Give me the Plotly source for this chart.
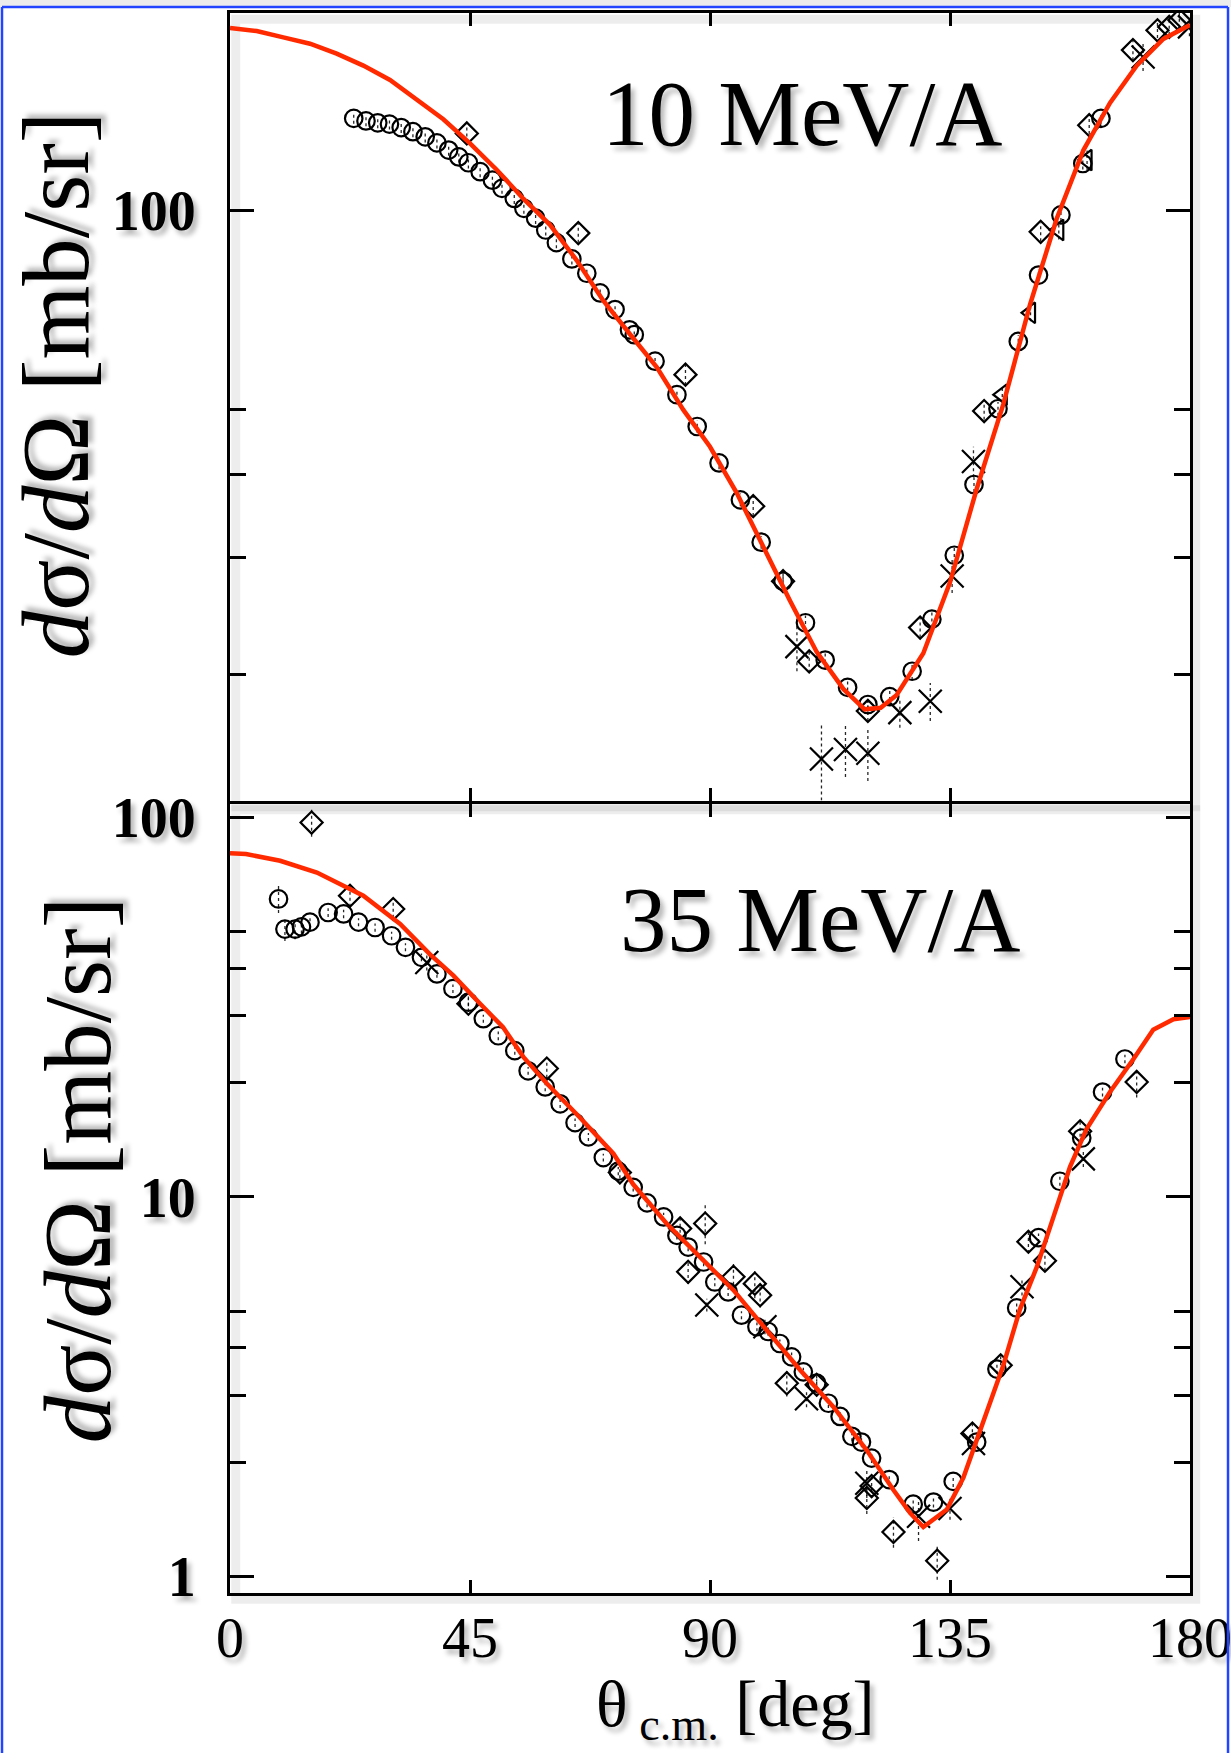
import plotly.graph_objects as go

# ---------------- 10 MeV/A (top panel) ----------------
top_curve_x = [0, 5, 10, 15, 20, 25, 30, 35, 40, 45, 50, 55, 60, 65, 70, 75, 80, 85, 90, 95, 100,
               105, 110, 115, 119, 122, 125, 130, 135, 140, 145, 150, 155, 160, 165, 170, 175, 180]
top_curve_y = [188, 186, 182, 178, 172, 165, 157, 147, 137, 126, 115, 104, 95, 84, 73, 65, 58, 50, 44, 37.5, 31,
               25.8, 21.6, 19, 17.7, 17.8, 18.6, 21.5, 27.5, 38, 51, 72, 97, 123, 145, 165, 181, 190]

top_circ_x = [23.2, 25.5, 27.7, 29.9, 32.1, 34.3, 36.6, 38.8, 41.0, 42.9, 44.7, 46.9, 49.2, 51.0, 53.3, 55.1,
              57.3, 59.2, 61.2, 64.1, 66.9, 69.4, 72.2, 74.9, 75.8, 79.7, 83.8, 87.6, 91.7, 95.7, 99.6, 103.7,
              107.9, 111.6, 115.8, 119.6, 123.7, 127.9, 131.6, 135.8, 139.5, 144.0, 147.8, 151.6, 155.8, 159.9, 163.3]
top_circ_y = [137.4, 136.2, 135.3, 134.7, 133.1, 131.2, 128.9, 126.2, 123.1, 120.2, 117.8, 114.2, 110.9, 107.8,
              104.1, 100.6, 97.2, 93.3, 89.3, 84.4, 80.3, 75.0, 70.8, 66.0, 64.9, 59.2, 52.7, 47.2, 41.6, 36.6,
              31.6, 27.6, 23.9, 21.0, 19.1, 18.0, 18.5, 20.2, 24.2, 30.2, 38.6, 50.2, 63.4, 79.8, 98.3, 117.5, 137.4]
top_circ_err = [2.5, 2.5, 2.5, 2.5, 2.5, 2.5, 2.5, 2.4, 2.4, 2.3, 2.3, 2.2, 2.1, 2.0, 2.0, 1.9,
                1.9, 1.8, 1.7, 1.6, 1.5, 1.4, 1.4, 1.3, 1.3, 1.2, 1.1, 1.0, 0.9, 0.8, 0.7, 0.7,
                0.6, 0.6, 0.6, 0.6, 0.6, 0.6, 0.7, 0.8, 1.0, 1.2, 1.4, 1.7, 2.0, 2.4, 2.8]

top_diam_x = [44.4, 65.3, 85.4, 98.1, 103.7, 108.6, 119.6, 129.4, 141.4, 152.0, 161.1, 169.3, 173.9, 176.1, 178.0]
top_diam_y = [130.4, 92.3, 56.5, 35.8, 27.6, 20.9, 17.6, 23.5, 49.8, 92.7, 134.2, 174.1, 186.5, 188.7, 193.2]
top_diam_err = [4, 3, 2, 1.2, 1, 0.8, 0.6, 0.8, 1.5, 3, 4, 6, 5, 5, 5]

top_x_x = [106.3, 110.9, 115.4, 119.6, 125.6, 131.3, 135.4, 139.4, 171.2, 179.9]
top_x_y = [22.0, 14.9, 15.4, 15.2, 17.5, 18.2, 28.1, 41.8, 170, 188.7]
top_x_err = [1.8, 2.0, 1.4, 1.4, 0.9, 1.2, 1.6, 2.2, 8, 6]

top_tri_x = [144.8, 150.1, 155.4, 160.7]
top_tri_y = [52.7, 70.0, 93.3, 118.9]
top_tri_err = [1.5, 2, 3, 4]

# ---------------- 35 MeV/A (bottom panel) ----------------
bot_curve_x = [0, 3, 9.4, 16.3, 25, 31.9, 37.5, 41.9, 46.9, 51.2, 55, 59.4, 65.6, 71.9, 75.6, 81.9, 88.1,
               94.4, 100.6, 106.9, 113.1, 119.4, 124.4, 127.5, 130, 134.4, 137.5, 141.3, 145, 148.1, 151.3,
               154.4, 157.5, 160.6, 165, 169.4, 173.1, 176.9, 180]
bot_curve_y = [80.5, 80.1, 76.9, 71.6, 62.2, 52.4, 43.6, 38.3, 32.3, 28.0, 23.4, 19.9, 16.2, 13.0, 10.8, 8.5,
               6.95, 5.68, 4.46, 3.5, 2.8, 2.15, 1.69, 1.47, 1.35, 1.50, 1.82, 2.55, 3.6, 5.05, 6.55,
               8.86, 12.0, 15.1, 18.9, 23.1, 27.6, 29.4, 29.8]

bot_circ_x = [9.1, 10.3, 12.2, 13.4, 15.0, 18.4, 21.3, 24.1, 27.2, 30.3, 32.9, 35.9, 38.8, 41.8, 44.7, 47.5,
              50.3, 53.4, 55.9, 59.1, 61.9, 64.7, 67.2, 70.0, 72.8, 75.6, 78.2, 81.3, 83.8, 85.9, 88.8, 90.9,
              93.4, 95.9, 98.8, 100.9, 103.1, 105.3, 107.5, 110.0, 112.2, 114.4, 116.6, 118.4, 120.3, 123.6,
              128.1, 131.9, 135.6, 140.0, 143.8, 147.5, 151.6, 155.6, 159.7, 163.6, 167.8]
bot_circ_y = [61.0, 50.8, 50.8, 51.5, 53.0, 56.2, 55.7, 53.0, 51.3, 48.8, 45.5, 42.8, 38.7, 35.4, 32.6, 29.5,
              26.6, 24.3, 21.5, 19.5, 17.6, 15.7, 14.4, 12.7, 11.7, 10.6, 9.65, 8.86, 7.92, 7.38, 6.74, 5.97,
              5.62, 4.88, 4.55, 4.42, 4.11, 3.79, 3.46, 3.23, 2.86, 2.64, 2.34, 2.26, 2.05, 1.80,
              1.55, 1.57, 1.78, 2.26, 3.52, 5.10, 7.81, 11.0, 14.3, 18.9, 23.1]
bot_circ_err = [5.0, 3.5, 3.0, 2.0, 1.6, 1.5, 1.4, 1.3, 1.3, 1.2, 1.1, 1.0, 0.9, 0.9, 0.8, 0.7,
                0.7, 0.6, 0.5, 0.5, 0.45, 0.4, 0.35, 0.3, 0.3, 0.27, 0.25, 0.22, 0.2, 0.19, 0.17, 0.15,
                0.14, 0.12, 0.12, 0.11, 0.1, 0.1, 0.09, 0.08, 0.08, 0.07, 0.07, 0.07, 0.06, 0.06,
                0.05, 0.05, 0.06, 0.07, 0.1, 0.14, 0.2, 0.3, 0.4, 0.5, 0.6]

bot_diam_x = [15.3, 22.5, 30.6, 44.7, 59.4, 73.1, 84.4, 85.9, 89.1, 94.4, 98.4, 99.4, 104.4, 110.0, 119.4,
              120.3, 124.4, 132.6, 139.2, 144.5, 149.7, 152.8, 159.4, 170.0]
bot_diam_y = [97.0, 62.2, 57.4, 32.3, 21.8, 11.6, 8.26, 6.35, 8.51, 6.16, 5.91, 5.51, 3.23, 3.20, 1.61,
              1.73, 1.31, 1.10, 2.38, 3.60, 7.62, 6.79, 14.9, 20.1]
bot_diam_err = [8, 4, 3, 1.5, 1.2, 0.8, 0.5, 0.45, 1.0, 0.5, 0.5, 0.4, 0.25, 0.22, 0.15,
                0.12, 0.12, 0.12, 0.15, 0.25, 0.5, 0.4, 1.0, 1.8]

bot_x_x = [36.9, 89.4, 100.3, 108.1, 119.4, 129.1, 135.0, 139.4, 148.5, 160.0]
bot_x_y = [41.5, 5.19, 4.55, 2.94, 1.76, 1.44, 1.51, 2.24, 5.8, 12.6]
bot_x_err = [2, 0.2, 0.2, 0.15, 0.15, 0.2, 0.1, 0.1, 0.3, 0.6]

x_ticks = [0, 45, 90, 135, 180]
top_y_ticks = [100]
bot_y_ticks = [1, 10, 100]
top_minor = [20, 30, 40, 50]
bot_minor = [2, 3, 4, 5, 20, 30, 40, 50]

FONT = "Liberation Serif, Times New Roman, serif"
SHADOW = "4px 5px 5px rgba(0,0,0,0.28)"
RED = "#ff2a00"

fig = go.Figure()


def err_lines(xs, ys, es):
    ox, oy = [], []
    for x, y, e in zip(xs, ys, es):
        ox += [x, x, None]
        oy += [max(y - e, 1e-3), y + e, None]
    return ox, oy


def add_panel(xa, ya, curve_x, curve_y, series):
    for xs, ys, es, sym, size in series:
        ex, ey = err_lines(xs, ys, es)
        fig.add_trace(go.Scatter(x=ex, y=ey, mode="lines", xaxis=xa, yaxis=ya,
                                 line=dict(color="rgba(0,0,0,0.85)", width=1.3, dash="dot"),
                                 hoverinfo="skip"))
    for xs, ys, es, sym, size in series:
        fig.add_trace(go.Scatter(x=xs, y=ys, mode="markers", xaxis=xa, yaxis=ya,
                                 marker=dict(symbol=sym, size=size, color="black",
                                             line=dict(color="black", width=2.2))))
    fig.add_trace(go.Scatter(x=curve_x, y=curve_y, mode="lines", xaxis=xa, yaxis=ya,
                             line=dict(color=RED, width=4.5)))


add_panel("x", "y", top_curve_x, top_curve_y, [
    (top_circ_x, top_circ_y, top_circ_err, "circle-open", 17.5),
    (top_diam_x, top_diam_y, top_diam_err, "diamond-open", 17),
    (top_x_x, top_x_y, top_x_err, "x-thin-open", 23),
    (top_tri_x, top_tri_y, top_tri_err, "triangle-left-open", 18),
])
add_panel("x2", "y2", bot_curve_x, bot_curve_y, [
    (bot_circ_x, bot_circ_y, bot_circ_err, "circle-open", 17.5),
    (bot_diam_x, bot_diam_y, bot_diam_err, "diamond-open", 17),
    (bot_x_x, bot_x_y, bot_x_err, "x-thin-open", 23),
])

PH = 1580.0
SPLIT = 0.5006
GAP = 1.5 / PH
xcommon = dict(range=[0, 180], tickmode="array", tickvals=x_ticks, ticks="inside", ticklen=13,
               tickwidth=3, tickcolor="black", showline=True, linewidth=3, linecolor="black",
               mirror="ticks", showgrid=False, zeroline=False, automargin=False,
               ticklabeloverflow="allow",
               tickfont=dict(family=FONT, size=56, color="black", shadow=SHADOW))
ycommon = dict(type="log", ticks="inside", ticklen=24, tickwidth=3, tickcolor="black",
               showline=True, linewidth=3, linecolor="black", mirror="ticks", showgrid=False,
               zeroline=False, automargin=False, ticklabelstandoff=20, ticklabeloverflow="allow",
               tickfont=dict(family=FONT, size=56, color="black", shadow=SHADOW))

fig.update_layout(
    width=1231, height=1753,
    margin=dict(l=230, r=41, t=13, b=160),
    paper_bgcolor="white", plot_bgcolor="white",
    showlegend=False,
    xaxis=dict(**xcommon, anchor="y", showticklabels=False),
    xaxis2=dict(**xcommon, anchor="y2", showticklabels=True, ticklabelstandoff=-6),
    yaxis=dict(**ycommon, domain=[SPLIT + GAP, 1], anchor="x", range=[1.1106, 2.2967],
               tickmode="array", tickvals=top_y_ticks, ticktext=["<b>%g</b>" % v for v in top_y_ticks],
               minor=dict(tickmode="array", tickvals=top_minor, ticks="inside", ticklen=16,
                          tickwidth=3, tickcolor="black")),
    yaxis2=dict(**ycommon, domain=[0, SPLIT - GAP], anchor="x2", range=[-0.0437, 2.0368],
                tickmode="array", tickvals=bot_y_ticks, ticktext=["<b>%g</b>" % v for v in bot_y_ticks],
                minor=dict(tickmode="array", tickvals=bot_minor, ticks="inside", ticklen=16,
                           tickwidth=3, tickcolor="black")),
)

ann_font = dict(family=FONT, color="black", shadow=SHADOW)
fig.add_annotation(text="10 MeV/A", xref="paper", yref="paper", x=0.596, y=0.9367,
                   xanchor="center", yanchor="middle", showarrow=False, font=dict(size=93, **ann_font))
fig.add_annotation(text="35 MeV/A", xref="paper", yref="paper", x=0.6146, y=0.426,
                   xanchor="center", yanchor="middle", showarrow=False, font=dict(size=93, **ann_font))
ytitle = "<i>d</i>σ/<i>d</i>Ω [mb/sr]"
fig.add_annotation(text=ytitle, xref="paper", yref="paper", x=-0.181, y=0.7646, textangle=-90,
                   xanchor="center", yanchor="middle", showarrow=False, font=dict(size=95, **ann_font))
fig.add_annotation(text=ytitle, xref="paper", yref="paper", x=-0.158, y=0.2677, textangle=-90,
                   xanchor="center", yanchor="middle", showarrow=False, font=dict(size=95, **ann_font))
fig.add_annotation(text="θ<sub> c.m.</sub> [deg]", xref="paper", yref="paper", x=0.526, y=-0.0728,
                   xanchor="center", yanchor="middle", showarrow=False, font=dict(size=66, **ann_font))

# soft shadow of the plot frames
for y0, y1 in [(SPLIT + GAP, 1), (0, SPLIT - GAP)]:
    fig.add_shape(type="rect", xref="paper", yref="paper", x0=0.006, x1=1.006, y0=y0 - 0.004, y1=y1 - 0.004,
                  line=dict(color="rgba(0,0,0,0.07)", width=9), layer="below")

# outer frame: grey band on top and blue border
fig.add_shape(type="rect", xref="paper", yref="paper", x0=-0.25, x1=1.05, y0=1.0038, y1=1.03,
              fillcolor="#ececec", line=dict(width=0), layer="below")
BLUE = "#2244ff"
fig.add_shape(type="line", xref="paper", yref="paper", x0=-0.2375, x1=1.0396, y0=1.0038, y1=1.0038,
              line=dict(color=BLUE, width=2.5))
fig.add_shape(type="line", xref="paper", yref="paper", x0=-0.2375, x1=-0.2375, y0=-0.11, y1=1.0038,
              line=dict(color=BLUE, width=2.5))
fig.add_shape(type="line", xref="paper", yref="paper", x0=1.0396, x1=1.0396, y0=-0.11, y1=1.0038,
              line=dict(color=BLUE, width=2.5))

fig.write_html("out.html")
